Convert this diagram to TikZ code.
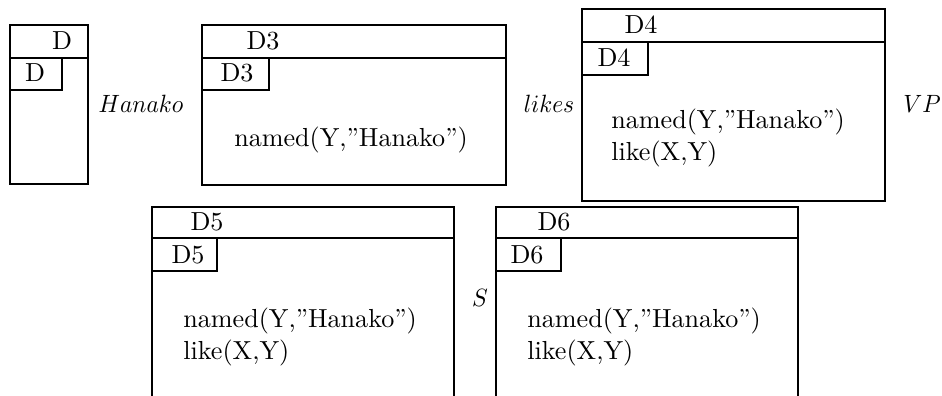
\documentclass[tikz,border=0pt]{standalone}
\newcommand{\Ztx}[1]{\scalebox{2.61}{#1}}
\newcommand{\Zit}[1]{\scalebox{2.35}[2.5]{#1}}
\begin{document}
\begin{tikzpicture}[x=1pt,y=-1pt,line width=2.8pt,
  lab/.style={inner sep=0pt,font=\fontsize{10}{12}\selectfont},
  body/.style={lab,anchor=west}]
\useasboundingbox (0,0) rectangle (942,396);
% Box D
\draw (10,25) rectangle (88,184);
\draw (10,58) -- (88,58);
\draw (10,90) -| (62,58);
\node[lab] (dh) at (62,41) {\Ztx{D}};
\node[lab] (di) at (35,73) {\Ztx{D}};
% Hanako
\node[lab] (hanako) at (141,104) {\Zit{$Hanako$}};
% Box D3
\draw (202,25) rectangle (506,185);
\draw (202,58) -- (506,58);
\draw (202,90) -| (269,58);
\node[lab] (d3h) at (263,41) {\Ztx{D3}};
\node[lab] (d3i) at (237,73) {\Ztx{D3}};
\node[lab] (d3n) at (351,140) {\Ztx{named(Y,''Hanako'')}};
% likes
\node[lab] (likes) at (549,104) {\Zit{$likes$}};
% Box D4
\draw (582,9) rectangle (885,201);
\draw (582,42) -- (885,42);
\draw (582,75) -| (648,42);
\node[lab] (d4h) at (641,25) {\Ztx{D4}};
\node[lab] (d4i) at (614,58) {\Ztx{D4}};
\node[body] (d4n) at (610,122) {\Ztx{named(Y,''Hanako'')}};
\node[body] (d4l) at (610,154) {\Ztx{like(X,Y)}};
% VP
\node[lab] (vp) at (922,104) {\Zit{$VP$}};
% Box D5
\draw (152,400) |- (454,207) -- (454,400);
\draw (152,238) -- (454,238);
\draw (152,271) -| (217,238);
\node[lab] (d5h) at (207,222) {\Ztx{D5}};
\node[lab] (d5i) at (188,255) {\Ztx{D5}};
\node[body] (d5n) at (182,321) {\Ztx{named(Y,''Hanako'')}};
\node[body] (d5l) at (182,353) {\Ztx{like(X,Y)}};
% S
\node[lab] (s) at (480,298) {\Zit{$S$}};
% Box D6
\draw (496,400) |- (798,207) -- (798,400);
\draw (496,238) -- (798,238);
\draw (496,271) -| (561,238);
\node[lab] (d6h) at (554,222) {\Ztx{D6}};
\node[lab] (d6i) at (527,255) {\Ztx{D6}};
\node[body] (d6n) at (526,321) {\Ztx{named(Y,''Hanako'')}};
\node[body] (d6l) at (526,353) {\Ztx{like(X,Y)}};
\end{tikzpicture}
\end{document}
